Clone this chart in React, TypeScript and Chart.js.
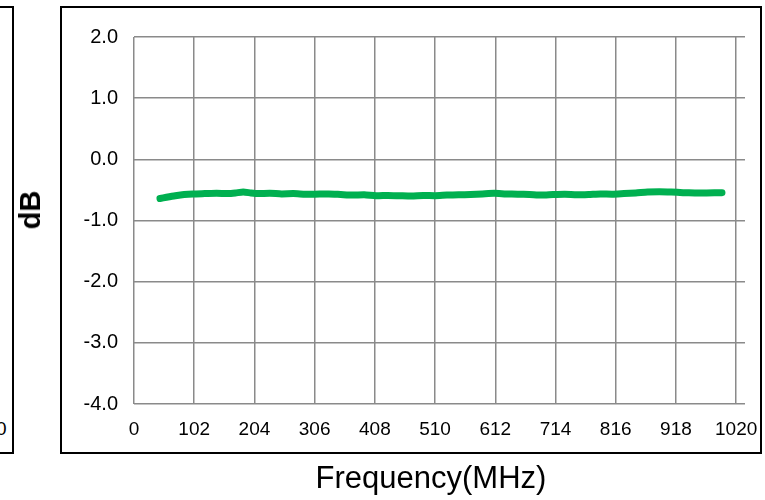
import React, { useEffect, useRef } from "react";
import { Chart, registerables } from "chart.js";

Chart.register(...registerables);

const freqMHz = [44, 55, 70, 85, 100, 120, 140, 160, 172, 185, 198, 210, 230, 250, 270, 290, 306, 330, 350, 370, 390, 410, 430, 450, 470, 490, 510, 530, 550, 570, 590, 610, 630, 650, 670, 690, 710, 730, 750, 770, 790, 810, 830, 850, 870, 890, 910, 930, 950, 970, 996];
const lossDb = [-0.64, -0.62, -0.595, -0.575, -0.565, -0.56, -0.555, -0.56, -0.55, -0.535, -0.55, -0.56, -0.555, -0.565, -0.56, -0.57, -0.57, -0.565, -0.575, -0.585, -0.58, -0.595, -0.59, -0.595, -0.6, -0.59, -0.595, -0.585, -0.58, -0.575, -0.565, -0.555, -0.565, -0.57, -0.575, -0.585, -0.575, -0.57, -0.58, -0.575, -0.565, -0.57, -0.56, -0.55, -0.535, -0.53, -0.535, -0.545, -0.55, -0.55, -0.545];
const xTickValues = [0, 102, 204, 306, 408, 510, 612, 714, 816, 918, 1020];
const yTickValues = [-4, -3, -2, -1, 0, 1, 2];
const xTitle = "Frequency(MHz)";
const yTitle = "dB";

const FONT = "'Liberation Sans', Arial, sans-serif";

export default function App() {
  const canvasRef = useRef<HTMLCanvasElement | null>(null);

  useEffect(() => {
    if (!canvasRef.current) return;
    const chart = new Chart(canvasRef.current, {
      type: "line",
      data: {
        datasets: [
          {
            data: freqMHz.map((f, i) => ({ x: f, y: lossDb[i] })),
            borderColor: "#00b050",
            backgroundColor: "#00b050",
            borderWidth: 7,
            pointRadius: 0,
            tension: 0.2,
            borderCapStyle: "round",
            borderJoinStyle: "round",
          },
        ],
      },
      options: {
        animation: false,
        responsive: false,
        devicePixelRatio: 1,
        layout: { padding: { top: 37, right: 20, left: 0, bottom: 0 } },
        plugins: { legend: { display: false }, tooltip: { enabled: false } },
        scales: {
          x: {
            type: "linear",
            min: 0,
            max: 1035,
            afterBuildTicks: (scale: any) => {
              scale.ticks = xTickValues.map((v) => ({ value: v }));
            },
            afterFit: (scale: any) => {
              scale.height = 96;
              scale.paddingLeft = 0;
              scale.paddingRight = 0;
            },
            grid: { color: "#8a8a8a", lineWidth: 1.5, drawTicks: false },
            border: { display: false },
            ticks: {
              autoSkip: false,
              maxRotation: 0,
              padding: 14,
              color: "#000",
              font: { family: FONT, size: 19 },
              callback: (v: any) => String(v),
            },
          },
          y: {
            type: "linear",
            min: -4,
            max: 2,
            afterBuildTicks: (scale: any) => {
              scale.ticks = yTickValues.map((v) => ({ value: v }));
            },
            afterFit: (scale: any) => {
              scale.width = 134;
              scale.paddingTop = 0;
              scale.paddingBottom = 0;
            },
            grid: { color: "#8a8a8a", lineWidth: 1.5, drawTicks: false },
            border: { display: false },
            ticks: {
              padding: 16,
              color: "#000",
              font: { family: FONT, size: 20 },
              callback: (v: any) => Number(v).toFixed(1),
            },
          },
        },
      },
    } as any);
    return () => chart.destroy();
  }, []);

  return (
    <div style={{ position: "absolute", left: 0, top: 0, width: 765, height: 500, overflow: "hidden", background: "#fff", fontFamily: FONT }}>
      <div style={{ position: "absolute", left: -20, top: 6, width: 34, height: 448, border: "2px solid #000", boxSizing: "border-box" }} />
      <div style={{ position: "absolute", left: -4, top: 418, fontSize: 19, lineHeight: "22px", color: "#000" }}>0</div>
      <div style={{ position: "absolute", left: 60, top: 6, width: 702, height: 448, border: "2px solid #000", boxSizing: "border-box" }} />
      <canvas ref={canvasRef} width={765} height={500} style={{ position: "absolute", left: 0, top: 0, width: 765, height: 500 }} />
      <div style={{ position: "absolute", left: 30, top: 210, transform: "translate(-50%, -50%) rotate(-90deg)", fontSize: 29, fontWeight: "bold", lineHeight: "30px", whiteSpace: "nowrap", color: "#000" }}>{yTitle}</div>
      <div style={{ position: "absolute", left: 431, top: 478, transform: "translate(-50%, -50%)", fontSize: 31, lineHeight: "34px", whiteSpace: "nowrap", color: "#000" }}>{xTitle}</div>
    </div>
  );
}
